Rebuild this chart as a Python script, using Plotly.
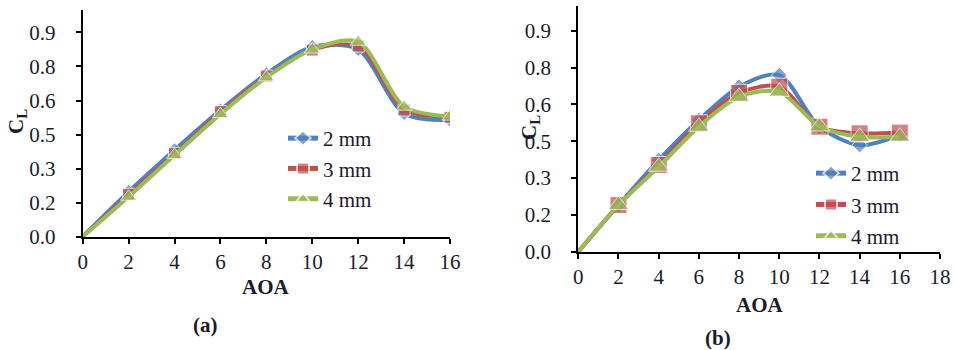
import plotly.graph_objects as go

aoa = [0, 2, 4, 6, 8, 10, 12, 14, 16]

# (a)
a_2mm = [0, 0.198, 0.382, 0.558, 0.717, 0.837, 0.825, 0.543, 0.514]
a_3mm = [0, 0.187, 0.367, 0.551, 0.708, 0.822, 0.840, 0.558, 0.526]
a_4mm = [0, 0.176, 0.360, 0.540, 0.702, 0.825, 0.859, 0.573, 0.529]

# (b)
b_2mm = [0, 0.190, 0.373, 0.536, 0.672, 0.719, 0.509, 0.434, 0.475]
b_3mm = [0, 0.190, 0.353, 0.523, 0.647, 0.672, 0.509, 0.482, 0.485]
b_4mm = [0, 0.190, 0.346, 0.509, 0.631, 0.651, 0.510, 0.468, 0.468]

series_names = ["2 mm", "3 mm", "4 mm"]
colors = ["#4F81BD", "#C0504D", "#9BBB59"]
symbols = ["diamond", "square", "triangle-up"]

y_tickvals = [0, 0.15, 0.30, 0.45, 0.60, 0.75, 0.90]
y_ticktext = ["0.0", "0.2", "0.3", "0.5", "0.6", "0.8", "0.9"]

FONT = "Liberation Serif, Times New Roman, serif"
TXT = "#1b1b2b"

fig = go.Figure()

sizes_a = [11, 12, 14]
sizes_b = [12, 17, 18]


def marker_sizes(s, n):
    # no marker drawn at the origin point
    return [0] + [s] * (n - 1)


for i, ys in enumerate([a_2mm, a_3mm, a_4mm]):
    fig.add_trace(go.Scatter(
        x=aoa, y=ys, name=series_names[i], mode="lines+markers",
        line=dict(color=colors[i], width=4 if i != 1 else 3, shape="spline", smoothing=0.8),
        marker=dict(symbol=symbols[i], size=marker_sizes(sizes_a[i], len(aoa)), color=colors[i]),
        xaxis="x", yaxis="y", legend="legend", legendgroup="a%d" % i,
    ))
for i, ys in enumerate([b_2mm, b_3mm, b_4mm]):
    fig.add_trace(go.Scatter(
        x=aoa, y=ys, name=series_names[i], mode="lines+markers",
        line=dict(color=colors[i], width=4, shape="spline", smoothing=0.8),
        marker=dict(symbol=symbols[i], size=marker_sizes(sizes_b[i], len(aoa)), color=colors[i]),
        xaxis="x2", yaxis="y2", legend="legend2", legendgroup="b%d" % i,
    ))

axis_common = dict(
    showline=True, linecolor="black", linewidth=2, ticks="outside", ticklen=5,
    tickwidth=2, tickcolor="black", showgrid=False, zeroline=False, automargin=False,
    tickfont=dict(family=FONT, size=21, color=TXT),
)

fig.update_layout(
    width=954, height=350, margin=dict(l=0, r=0, t=0, b=0, autoexpand=False),
    paper_bgcolor="white", plot_bgcolor="white",
    xaxis=dict(domain=[82.7 / 954, 450 / 954], range=[0, 16], tickvals=list(range(0, 17, 2)),
               anchor="y", ticklabelstandoff=0, **axis_common),
    yaxis=dict(domain=[(350 - 236.7) / 350, (350 - 9.7) / 350], range=[0, 1.0],
               tickvals=y_tickvals, ticktext=y_ticktext, anchor="x", ticklabelstandoff=16, **axis_common),
    xaxis2=dict(domain=[578.3 / 954, 940 / 954], range=[0, 18], tickvals=list(range(0, 19, 2)),
                anchor="y2", ticklabelstandoff=0, **axis_common),
    yaxis2=dict(domain=[(350 - 251.7) / 350, (350 - 6.1) / 350], range=[0, 1.0],
                tickvals=y_tickvals, ticktext=y_ticktext, anchor="x2", ticklabelstandoff=16, **axis_common),
    legend=dict(x=(325 - 42) / 954, y=(350 - 118) / 350, xanchor="left", yanchor="top",
                bgcolor="rgba(0,0,0,0)", font=dict(family=FONT, size=21, color=TXT),
                tracegroupgap=0, itemwidth=30, itemsizing="constant"),
    legend2=dict(x=(853 - 42) / 954, y=(350 - 153) / 350, xanchor="left", yanchor="top",
                 bgcolor="rgba(0,0,0,0)", font=dict(family=FONT, size=21, color=TXT),
                 tracegroupgap=1, itemwidth=30, itemsizing="constant"),
    showlegend=True,
)

ann = [
    dict(text="<b>AOA</b>", x=266 / 954, y=(350 - 287) / 350),
    dict(text="<b>AOA</b>", x=760 / 954, y=(350 - 305) / 350),
    dict(text="<b>(a)</b>", x=205 / 954, y=(350 - 325) / 350),
    dict(text="<b>(b)</b>", x=718 / 954, y=(350 - 338) / 350),
]
for a in ann:
    fig.add_annotation(text=a["text"], x=a["x"], y=a["y"], xref="paper", yref="paper",
                       showarrow=False, xanchor="center", yanchor="middle",
                       font=dict(family=FONT, size=21, color=TXT))

for cx, cy in [(17, 122), (530, 128)]:
    fig.add_annotation(text="<b>C<sub>L</sub></b>", x=cx / 954, y=(350 - cy) / 350,
                       xref="paper", yref="paper", showarrow=False, textangle=-90,
                       xanchor="center", yanchor="middle",
                       font=dict(family=FONT, size=21, color=TXT))

fig.write_html("out.html", config={"displayModeBar": False},
               post_script="document.body.style.margin='0';document.body.style.overflow='hidden';")
